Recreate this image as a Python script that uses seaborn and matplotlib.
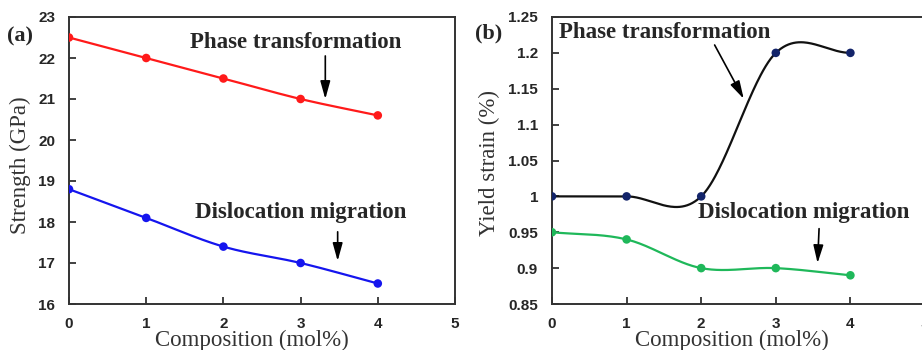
import numpy as np
import pandas as pd
import matplotlib
matplotlib.use("Agg")
import matplotlib.pyplot as plt
import seaborn as sns

# data
comp = [0, 1, 2, 3, 4]
strength_phase = [22.5, 22.0, 21.5, 21.0, 20.6]
strength_disloc = [18.8, 18.1, 17.4, 17.0, 16.5]
strain_phase = [1.0, 1.0, 1.0, 1.2, 1.2]
strain_disloc = [0.95, 0.94, 0.90, 0.90, 0.89]
xticks = [0, 1, 2, 3, 4, 5]
yticks_a = [16, 17, 18, 19, 20, 21, 22, 23]
yticks_b = [0.85, 0.9, 0.95, 1.0, 1.05, 1.1, 1.15, 1.2, 1.25]
yticklabels_b = ["0.85", "0.9", "0.95", "1", "1.05", "1.1", "1.15", "1.2", "1.25"]


def smooth(x, y, n=60):
    # Catmull-Rom style curve through the points (drawing only)
    x = np.asarray(x, float)
    y = np.asarray(y, float)
    m = np.gradient(y, x)
    xs, ys = [], []
    for i in range(len(x) - 1):
        h = x[i + 1] - x[i]
        t = np.linspace(0, 1, n)
        h00 = 2 * t**3 - 3 * t**2 + 1
        h10 = t**3 - 2 * t**2 + t
        h01 = -2 * t**3 + 3 * t**2
        h11 = t**3 - t**2
        xs.append(x[i] + h * t)
        ys.append(h00 * y[i] + h10 * h * m[i] + h01 * y[i + 1] + h11 * h * m[i + 1])
    return pd.DataFrame({"x": np.concatenate(xs), "y": np.concatenate(ys)})


sns.set_style("ticks")
plt.rcParams["font.family"] = ["Liberation Sans", "DejaVu Sans"]

fig = plt.figure(figsize=(9.22, 3.5), dpi=100)
ax1 = fig.add_axes([69 / 922, 46 / 350, 386 / 922, 287 / 350])
ax2 = fig.add_axes([552 / 922, 46 / 350, 373 / 922, 287 / 350])

serif = ["Liberation Serif", "DejaVu Serif"]
spine_c = "#333333"


def draw(ax, y, line_c, mark_c):
    df = pd.DataFrame({"x": comp, "y": y})
    sns.lineplot(data=smooth(comp, y), x="x", y="y", ax=ax, color=line_c,
                 lw=1.6, sort=False, estimator=None)
    sns.scatterplot(data=df, x="x", y="y", ax=ax, color=mark_c, s=38,
                    edgecolor="none", zorder=5)


draw(ax1, strength_phase, "#ff1a1a", "#ff1a1a")
draw(ax1, strength_disloc, "#1515ee", "#1515ee")
draw(ax2, strain_phase, "#111111", "#13246a")
draw(ax2, strain_disloc, "#1fb85a", "#1fb85a")

ax1.set_xlim(0, 5)
ax1.set_ylim(16, 23)
ax1.set_yticks(yticks_a)
ax2.set_xlim(0, 5)
ax2.set_ylim(0.85, 1.25)
ax2.set_yticks(yticks_b)
ax2.set_yticklabels(yticklabels_b)

for ax in (ax1, ax2):
    ax.set_xticks(xticks)
    ax.set_xlabel("")
    ax.set_ylabel("")
    ax.tick_params(direction="in", length=5, width=1.3, color=spine_c,
                   labelsize=11)
    ax.tick_params(axis="x", pad=9.5)
    ax.tick_params(axis="y", pad=10)
    for lab in ax.get_xticklabels() + ax.get_yticklabels():
        lab.set_fontweight("bold")
    for s in ax.spines.values():
        s.set_visible(True)
        s.set_color(spine_c)
        s.set_linewidth(1.4)

ann = dict(fontsize=16.5, fontweight="bold", family=serif, ha="center", va="center")
arr = dict(arrowstyle="-|>,head_length=0.9,head_width=0.25", color="black",
           lw=1.2, mutation_scale=12, shrinkA=0, shrinkB=0)

ax1.text(2.93, 22.37, "Phase transformation", **ann)
ax1.annotate("", xy=(3.32, 21.0), xytext=(3.32, 22.05), arrowprops=arr)
ax1.text(3.0, 18.24, "Dislocation migration", **ann)
ax1.annotate("", xy=(3.48, 17.05), xytext=(3.48, 17.76), arrowprops=arr)

ax2.text(1.51, 1.228, "Phase transformation", **ann)
ax2.annotate("", xy=(2.57, 1.136), xytext=(2.18, 1.211), arrowprops=arr)
ax2.text(3.37, 0.978, "Dislocation migration", **ann)
ax2.annotate("", xy=(3.56, 0.907), xytext=(3.58, 0.955), arrowprops=arr)

fig.text(20 / 922, 1 - 36 / 350, "(a)", fontsize=16, fontweight="bold",
         family=serif, ha="center", va="center")
fig.text(489 / 922, 1 - 33 / 350, "(b)", fontsize=16, fontweight="bold",
         family=serif, ha="center", va="center")

lab = dict(fontsize=16.5, family=serif, color="#333333", ha="center", va="center")
fig.text(20 / 922, 1 - 165 / 350, "Strength (GPa)", rotation=90, **lab)
fig.text(489 / 922, 1 - 163 / 350, "Yield strain (%)", rotation=90, **lab)
fig.text(252 / 922, 10 / 350, "Composition (mol%)", **lab)
fig.text(732 / 922, 10 / 350, "Composition (mol%)", **lab)

fig.savefig("out.png", dpi=100)
